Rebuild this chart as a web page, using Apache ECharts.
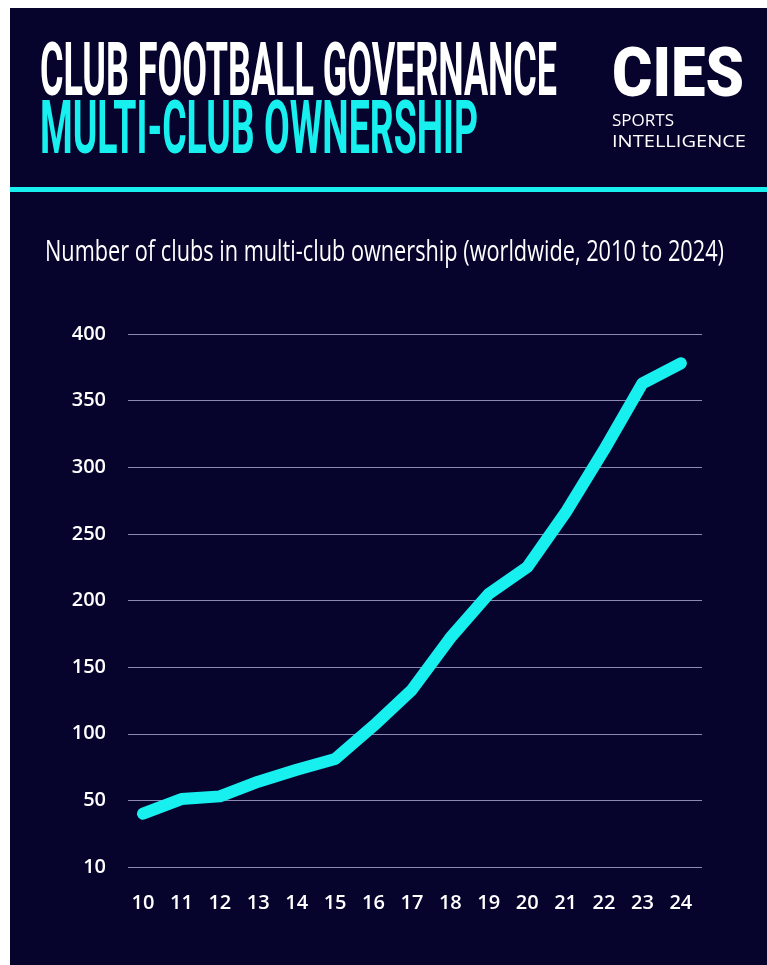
<!DOCTYPE html>
<html>
<head>
<meta charset="utf-8">
<script src="https://cdn.jsdelivr.net/npm/echarts@6/dist/echarts.min.js"></script>
<style>
html,body{margin:0;padding:0;background:#ffffff;}
#chart{width:767px;height:965px;}
</style>
</head>
<body>
<div id="chart"></div>
<script>
// ---- data ----
var yearLabels = ['10','11','12','13','14','15','16','17','18','19','20','21','22','23','24'];
var clubs = [40, 51, 53, 64, 73, 81, 106, 133, 172, 205, 225, 266, 313, 363, 378];
var yTicks = [0, 50, 100, 150, 200, 250, 300, 350, 400];
var yTickLabels = ['10', '50', '100', '150', '200', '250', '300', '350', '400'];

var titleLine1 = 'CLUB FOOTBALL GOVERNANCE';
var titleLine2 = 'MULTI-CLUB OWNERSHIP';
var subtitle = 'Number of clubs in multi-club ownership (worldwide, 2010 to 2024)';

// ---- helpers ----
var mctx = document.createElement('canvas').getContext('2d');
function fitScale(text, font, target) {
  mctx.font = font;
  return target / mctx.measureText(text).width;
}

var NAVY = '#06042d';
var CYAN = '#17f0ef';

var f1 = 'bold 74px Roboto';
var f3 = '29px "Open Sans"';
var fLogo = '900 68px Roboto';
var fSmall = '17px "Open Sans"';

var chart = echarts.init(document.getElementById('chart'), null, {renderer: 'canvas'});

var option = {
  backgroundColor: '#ffffff',
  animation: false,
  graphic: [
    {type: 'rect', z: -10, shape: {x: 10, y: 8, width: 757, height: 957}, style: {fill: NAVY}},
    {type: 'rect', z: -9, shape: {x: 10, y: 187, width: 757, height: 5}, style: {fill: CYAN}},
    {type: 'text', x: 40, y: 76, scaleX: fitScale(titleLine1, f1, 517),
      style: {x: 0, y: 0, text: titleLine1, font: f1, fill: '#ffffff', verticalAlign: 'middle'}},
    {type: 'text', x: 40, y: 134, scaleX: fitScale(titleLine2, f1, 438),
      style: {x: 0, y: 0, text: titleLine2, font: f1, fill: CYAN, verticalAlign: 'middle'}},
    {type: 'text', x: 612, y: 79, scaleX: fitScale('CIES', fLogo, 132),
      style: {x: 0, y: 0, text: 'CIES', font: fLogo, fill: '#ffffff', verticalAlign: 'middle'}},
    {type: 'text', x: 612, y: 121,
      style: {x: 0, y: 0, text: 'SPORTS', font: fSmall, fill: '#ffffff', verticalAlign: 'middle'}},
    {type: 'text', x: 612, y: 142, scaleX: fitScale('INTELLIGENCE', fSmall, 134),
      style: {x: 0, y: 0, text: 'INTELLIGENCE', font: fSmall, fill: '#ffffff', verticalAlign: 'middle'}},
    {type: 'text', x: 45, y: 253, scaleX: fitScale(subtitle, f3, 679),
      style: {x: 0, y: 0, text: subtitle, font: f3, fill: '#ffffff', verticalAlign: 'middle'}}
  ],
  grid: {left: 128, right: 65, top: 334, bottom: 98, containLabel: false},
  xAxis: {
    type: 'value',
    min: 9.61,
    max: 24.55,
    axisLine: {show: false},
    axisTick: {show: false},
    splitLine: {show: false},
    axisLabel: {
      customValues: yearLabels.map(Number),
      formatter: function (v) { return String(v); },
      color: '#ffffff',
      fontFamily: 'Open Sans',
      fontWeight: 600,
      fontSize: 20,
      margin: 26
    }
  },
  yAxis: {
    type: 'value',
    min: 0,
    max: 400,
    interval: 50,
    axisLine: {show: false},
    axisTick: {show: false},
    splitLine: {show: true, lineStyle: {color: '#8c89b4', width: 1}},
    axisLabel: {
      color: '#ffffff',
      fontFamily: 'Open Sans',
      fontWeight: 600,
      fontSize: 20,
      margin: 22,
      formatter: function (v) {
        var i = yTicks.indexOf(v);
        return i >= 0 ? yTickLabels[i] : '';
      }
    }
  },
  series: [{
    type: 'line',
    data: yearLabels.map(function (y, i) { return [Number(y), clubs[i]]; }),
    showSymbol: false,
    symbol: 'none',
    smooth: false,
    lineStyle: {color: CYAN, width: 12, cap: 'round', join: 'round'}
  }]
};
chart.setOption(option);
</script>
</body>
</html>
